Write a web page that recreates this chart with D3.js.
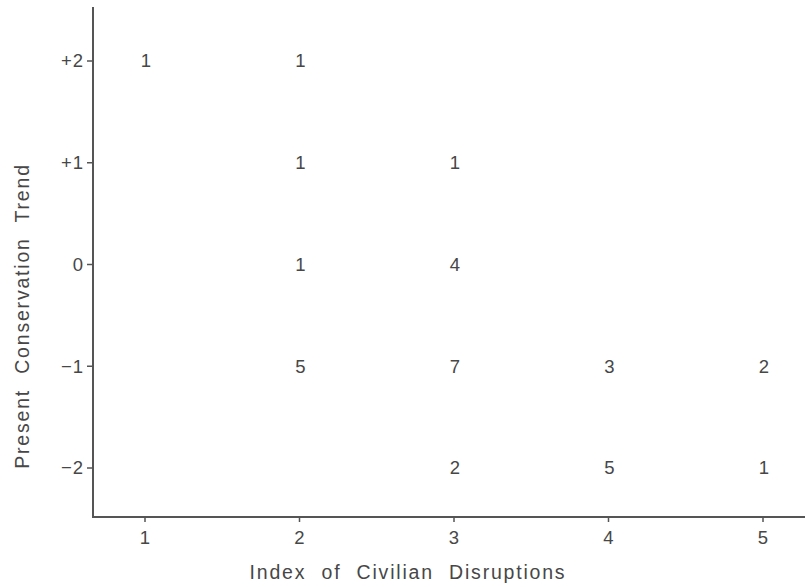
<!DOCTYPE html>
<html>
<head>
<meta charset="utf-8">
<script src="https://cdn.jsdelivr.net/npm/d3@7/dist/d3.min.js"></script>
<style>
  html, body { margin: 0; padding: 0; background: #fff; }
  svg { display: block; }
  text { font-family: "Liberation Sans", Arial, Helvetica, sans-serif; fill: #474747; }
</style>
</head>
<body>
<svg id="chart" width="805" height="587"></svg>
<script>
// Cross-tabulation: civilian disruption index (x) vs. conservation trend (y),
// each cell labelled with the number of cases.
const disruptionIndex = [1, 2, 2, 2, 2, 3, 3, 3, 3, 4, 4, 5, 5];
const conservationTrend = [2, 2, 1, 0, -1, 1, 0, -1, -2, -1, -2, -1, -2];
const caseCounts = [1, 1, 1, 1, 5, 1, 4, 7, 2, 3, 5, 2, 1];

const xTicks = [1, 2, 3, 4, 5];
const xTickLabels = ["1", "2", "3", "4", "5"];
const yTicks = [2, 1, 0, -1, -2];
const yTickLabels = ["+2", "+1", "0", "\u22121", "\u22122"];

const xTitle = "Index of Civilian Disruptions";
const yTitle = "Present Conservation Trend";

const cells = disruptionIndex.map((d, i) => ({
  x: d, y: conservationTrend[i], n: caseCounts[i]
}));

const svg = d3.select("#chart");
const axisColor = "#555";
const fs = 18.5;
const titleFs = 19.5;

const x = d3.scaleLinear().domain([1, 5]).range([145, 763]);
const y = d3.scaleLinear().domain([-2, 2]).range([468, 61]);

const xMin = x.invert(93), xMax = x.invert(805);
const yMin = y.invert(517), yMax = y.invert(7);

// Axis lines
svg.append("line")
  .attr("x1", x(xMin)).attr("x2", x(xMin))
  .attr("y1", y(yMax)).attr("y2", y(yMin))
  .attr("stroke", axisColor).attr("stroke-width", 2);
svg.append("line")
  .attr("x1", x(xMin) - 1).attr("x2", x(xMax))
  .attr("y1", y(yMin)).attr("y2", y(yMin))
  .attr("stroke", axisColor).attr("stroke-width", 2);

// Y ticks and labels
const yG = svg.append("g");
yG.selectAll("line").data(yTicks).join("line")
  .attr("x1", x(xMin) - 6).attr("x2", x(xMin))
  .attr("y1", d => y(d)).attr("y2", d => y(d))
  .attr("stroke", axisColor).attr("stroke-width", 1.5);
yG.selectAll("text").data(yTicks).join("text")
  .attr("x", x(xMin) - 9)
  .attr("y", d => y(d))
  .attr("dy", "0.35em")
  .attr("text-anchor", "end")
  .attr("font-size", fs)
  .attr("letter-spacing", 1)
  .text((d, i) => yTickLabels[i]);

// X ticks and labels
const xG = svg.append("g");
xG.selectAll("line").data(xTicks).join("line")
  .attr("x1", d => x(d)).attr("x2", d => x(d))
  .attr("y1", y(yMin)).attr("y2", y(yMin) + 5)
  .attr("stroke", axisColor).attr("stroke-width", 1.5);
xG.selectAll("text").data(xTicks).join("text")
  .attr("x", d => x(d))
  .attr("y", y(yMin) + 27)
  .attr("text-anchor", "middle")
  .attr("font-size", fs)
  .text((d, i) => xTickLabels[i]);

// Cell counts
svg.append("g").selectAll("text").data(cells).join("text")
  .attr("x", d => x(d.x) + 1)
  .attr("y", d => y(d.y))
  .attr("dy", "0.35em")
  .attr("text-anchor", "middle")
  .attr("font-size", fs)
  .text(d => d.n);

// Axis titles
svg.append("text")
  .attr("x", 408).attr("y", 579)
  .attr("text-anchor", "middle")
  .attr("font-size", titleFs)
  .attr("word-spacing", 8)
  .attr("letter-spacing", 1.8)
  .text(xTitle);

svg.append("text")
  .attr("transform", "translate(29,316) rotate(-90)")
  .attr("text-anchor", "middle")
  .attr("font-size", titleFs)
  .attr("word-spacing", 8)
  .attr("letter-spacing", 1.8)
  .text(yTitle);
</script>
</body>
</html>
